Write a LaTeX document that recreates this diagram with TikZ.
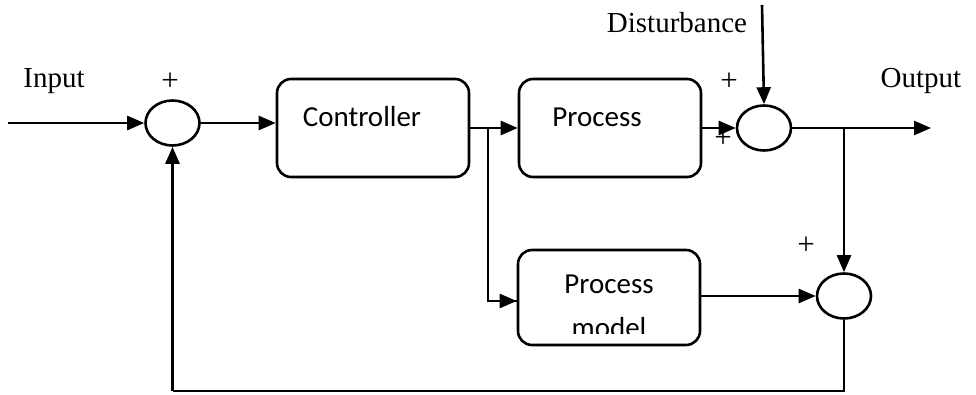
\documentclass[tikz,border=0pt]{standalone}
\usepackage{fontspec}
\setmainfont{Liberation Serif}
\newfontfamily\calib{Carlito}
\usetikzlibrary{shapes.geometric,arrows.meta}
\begin{document}
\begin{tikzpicture}[x=1pt,y=-1pt,
  blk/.style={draw,line width=2.6pt,rounded corners=14pt,inner sep=0pt},
  sumj/.style={draw,line width=2.6pt,ellipse,minimum width=54pt,minimum height=45pt,inner sep=0pt},
  lbl/.style={font=\fontsize{29}{32}\selectfont,inner sep=0pt},
  btxt/.style={font=\calib\fontsize{29}{33}\selectfont,inner sep=0pt},
  sgn/.style={font=\fontsize{31}{33}\selectfont,inner sep=0pt},
  thk/.style={line width=2.6pt},
  thn/.style={line width=1.5pt},
  arr/.style={-{Triangle[length=17pt,width=14pt]}}]
\useasboundingbox (0,0) rectangle (976,395);
% blocks
\node[blk,minimum width=192pt,minimum height=98pt] (ctrl) at (373,128) {};
\node[btxt,anchor=base] (ctrlt) at (362,127) {Controller};
\node[blk,minimum width=182pt,minimum height=98pt] (proc) at (610,128) {};
\node[btxt,anchor=base] (proct) at (597,127) {Process};
\node[blk,minimum width=182pt,minimum height=95pt] (pm) at (609,297.5) {};
\node[btxt,anchor=base] (pmt1) at (609,293) {Process};
\begin{scope}
\clip (520,300) rectangle (700,333);
\node[btxt,anchor=base] (pmt2) at (609,337) {model};
\end{scope}
% junctions
\node[sumj] (c1) at (172.5,123) {};
\node[sumj] (c2) at (764,128) {};
\node[sumj] (c3) at (844,296) {};
% free ends
\coordinate (inp) at (8,123);
\coordinate (out) at (931,128);
\coordinate (dist) at (762,5);
\coordinate (br1) at (488,128);
\coordinate (br2) at (844,128);
\coordinate (fb1) at (844,391);
\coordinate (fb2) at (172.5,391);
% labels
\node[lbl,anchor=base] (inl) at (54,88) {Input};
\node[lbl,anchor=base] (outl) at (921,88) {Output};
\node[lbl,anchor=base] (distl) at (677,33) {Disturbance};
\node[sgn] (p1) at (170,82) {+};
\node[sgn] (p2) at (729,82) {+};
\node[sgn] (p3) at (723,139) {+};
\node[sgn] (p4) at (806,246) {+};
\node[font=\fontsize{14}{14}\selectfont,inner sep=0pt] (m1) at (801,302) {-};
% connectors
\draw[thk,arr] (inp) -- (c1.west);
\draw[thk,arr] (c1.east) -- (c1.east -| ctrl.west);
\draw[thk,arr] (ctrl.east |- br1) -- (br1 -| proc.west);
\draw[thn] (br1) |- (pm.west |- 0,301);
\draw[thk,arr] (488,301) -- (pm.west |- 0,301);
\draw[thk,arr] (proc.east |- c2.west) -- (c2.west);
\draw[thk,arr] (dist) -- (c2.north);
\draw[thk,arr] (c2.east) -- (out);
\draw[thk,arr] (br2) -- (c3.north);
\draw[thk,arr] (pm.east |- c3.west) -- (c3.west);
\draw[thn] (c3.south) -- (fb1) -- (fb2);
\draw[thk,arr] (fb2) -- (c1.south);
\end{tikzpicture}
\end{document}
